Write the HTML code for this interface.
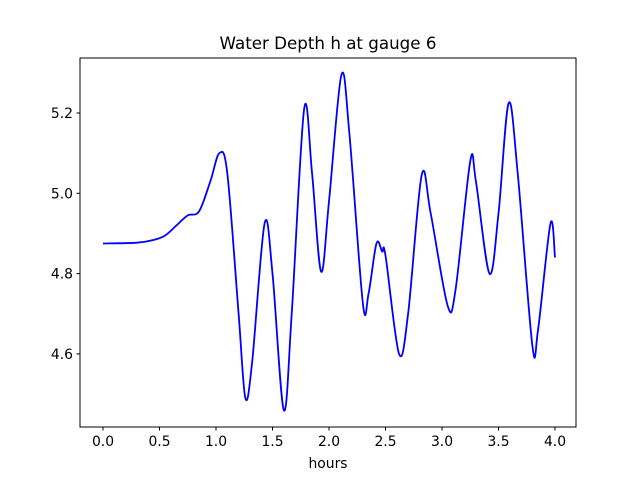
<!DOCTYPE html>
<html><head><meta charset="utf-8"><style>
body{margin:0;background:#fff;}
text{font-family:"DejaVu Sans","Liberation Sans",sans-serif;fill:#000;}
</style></head><body>
<svg id="chart" width="640" height="480" xmlns="http://www.w3.org/2000/svg">
<rect width="640" height="480" fill="#fff"/>
<text x="328" y="49" font-size="16.7" text-anchor="middle">Water Depth h at gauge 6</text>
<text x="328" y="468" font-size="13.9" text-anchor="middle">hours</text>
<g id="ticks"></g>
<path id="series" fill="none" stroke="#0000ff" stroke-width="1.8"/>
<rect x="80" y="58" width="496" height="369" fill="none" stroke="#000" stroke-width="1"/>
</svg>
<script>
const hours=[0,0.3,0.45,0.55,0.65,0.75,0.85,0.95,1.03,1.1,1.2,1.26,1.32,1.43,1.5,1.6,1.67,1.78,1.85,1.93,2.0,2.11,2.18,2.3,2.35,2.42,2.47,2.5,2.62,2.7,2.82,2.9,3.05,3.12,3.25,3.3,3.42,3.5,3.59,3.67,3.8,3.85,3.96,4.0];
const depth=[4.875,4.877,4.884,4.895,4.92,4.945,4.955,5.03,5.10,5.05,4.70,4.49,4.58,4.925,4.80,4.46,4.70,5.21,5.05,4.805,4.98,5.295,5.15,4.725,4.75,4.875,4.855,4.845,4.60,4.70,5.045,4.95,4.72,4.76,5.08,5.03,4.80,4.95,5.225,5.05,4.62,4.66,4.925,4.84];
const xTicks=[0,0.5,1,1.5,2,2.5,3,3.5,4];
const yTicks=[4.6,4.8,5.0,5.2];
const xs=t=>103+t*113;
const ys=v=>113+(5.2-v)*401.5;
const NS="http://www.w3.org/2000/svg";
const g=document.getElementById('ticks');
xTicks.forEach(t=>{
 const l=document.createElementNS(NS,'line');
 
 
 l.setAttribute('x1',xs(t));l.setAttribute('x2',xs(t));l.setAttribute('y1',427);l.setAttribute('y2',430.5);l.setAttribute('stroke','#000');
 g.appendChild(l);
 const tx=document.createElementNS(NS,'text');
 
 
 tx.setAttribute('x',xs(t));tx.setAttribute('y',446);tx.setAttribute('font-size','13.9');tx.setAttribute('text-anchor','middle');
 tx.textContent=t.toFixed(1);g.appendChild(tx);
});
yTicks.forEach(v=>{
 const l=document.createElementNS(NS,'line');
 
 
 l.setAttribute('x1',76.5);l.setAttribute('x2',80);l.setAttribute('y1',ys(v));l.setAttribute('y2',ys(v));l.setAttribute('stroke','#000');
 g.appendChild(l);
 const tx=document.createElementNS(NS,'text');
 
 
 tx.setAttribute('x',73);tx.setAttribute('y',ys(v)+5);tx.setAttribute('font-size','13.9');tx.setAttribute('text-anchor','end');
 tx.textContent=v.toFixed(1);g.appendChild(tx);
});
const P=hours.map((t,i)=>[xs(t),ys(depth[i])]);
let d='M'+P[0][0]+','+P[0][1];
for(let i=0;i<P.length-1;i++){
 const p0=P[Math.max(i-1,0)],p1=P[i],p2=P[i+1],p3=P[Math.min(i+2,P.length-1)];
 const c1=[p1[0]+(p2[0]-p0[0])/6,p1[1]+(p2[1]-p0[1])/6];
 const c2=[p2[0]-(p3[0]-p1[0])/6,p2[1]-(p3[1]-p1[1])/6];
 d+=' C'+c1+' '+c2+' '+p2;
}
document.getElementById('series').setAttribute('d',d);
</script>
</body></html>
